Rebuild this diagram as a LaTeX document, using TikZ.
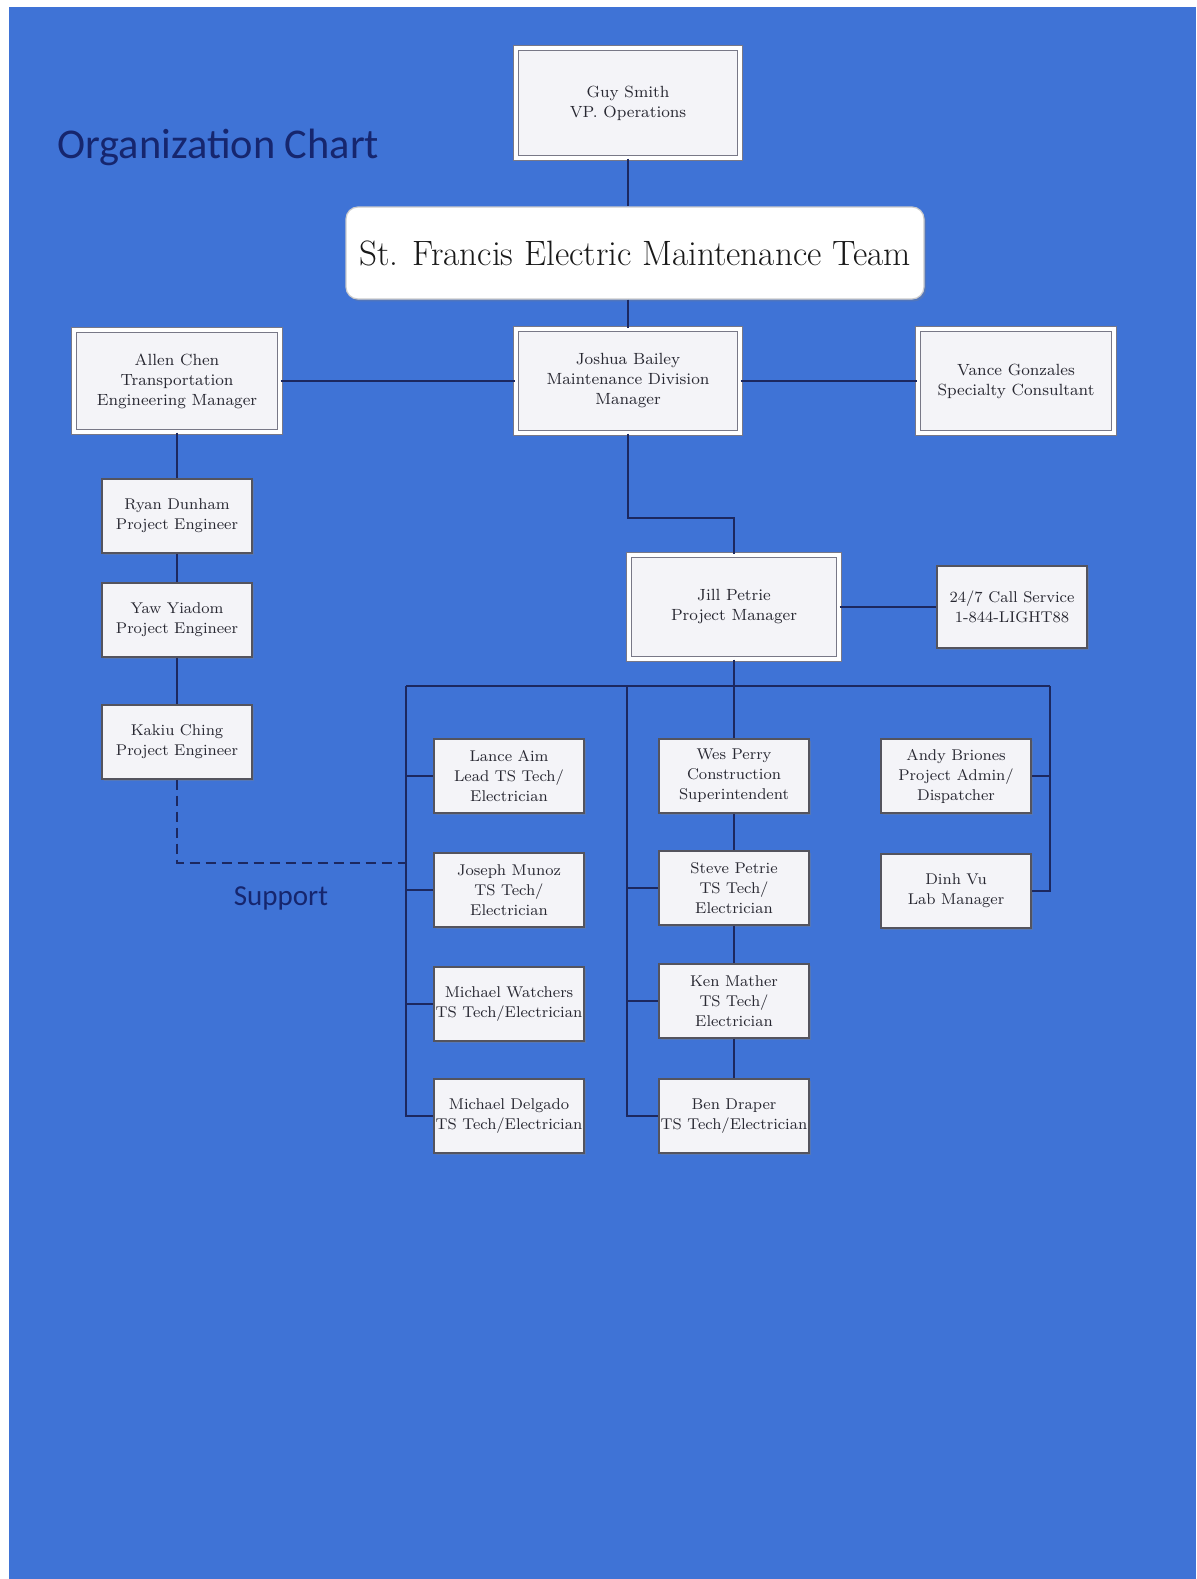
\documentclass[tikz,border=0pt]{standalone}
\usepackage{fontspec}
\newfontfamily\headfont{Carlito}
\usetikzlibrary{shadows}
\definecolor{bgblue}{RGB}{63,115,214}
\definecolor{linecol}{RGB}{28,40,96}
\definecolor{boxgray}{RGB}{120,120,135}
\definecolor{boxfill}{RGB}{244,244,248}
\definecolor{txtcol}{RGB}{40,40,50}
\definecolor{headcol}{RGB}{22,38,110}
\begin{document}
\begin{tikzpicture}[x=0.5pt,y=-0.5pt,
  conn/.style={draw=linecol, line width=0.9pt},
  supp/.style={draw=linecol, line width=0.9pt, dash pattern=on 5pt off 3pt},
  boxtext/.style={font=\fontsize{8.1}{10}\selectfont, text=txtcol, align=center, inner sep=1pt},
  bigbox/.style={boxtext, draw=boxgray, line width=0.6pt, double=white, double distance=1.6pt, fill=boxfill,
    drop shadow={opacity=0.35, shadow xshift=1pt, shadow yshift=-1.2pt}},
  smallbox/.style={boxtext, font=\fontsize{7.8}{10}\selectfont, inner sep=0pt, draw=boxgray!70!black, line width=0.7pt, fill=boxfill,
    minimum width=75pt, minimum height=37pt,
    drop shadow={opacity=0.35, shadow xshift=1pt, shadow yshift=-1.2pt}},
]
\useasboundingbox (0,0) rectangle (1196,1579);
\fill[white] (0,0) rectangle (1196,1579);
\fill[bgblue] (9,7) rectangle (1196,1579);

% heading
\node[font=\headfont\fontsize{21.2}{24}\selectfont, text=headcol, anchor=west, inner sep=0pt] (head) at (57,147) {Organization Chart};

% top
\node[bigbox, minimum width=112pt, minimum height=55pt] (guy) at (628,103) {Guy Smith\\VP. Operations};
\node[draw=gray!40, line width=0.6pt, fill=white, rounded corners=6pt, minimum width=289pt, minimum height=46pt,
  font=\fontsize{17.6}{20}\selectfont, text=black!90, inner sep=1pt,
  drop shadow={opacity=0.3, shadow xshift=1pt, shadow yshift=-1.2pt}] (team) at (635,253) {St. Francis Electric Maintenance Team};

\node[bigbox, minimum width=103pt, minimum height=51pt] (allen) at (177,381) {Allen Chen\\Transportation\\Engineering Manager};
\node[bigbox, minimum width=112pt, minimum height=52pt] (joshua) at (628,381) {Joshua Bailey\\Maintenance Division\\Manager};
\node[bigbox, minimum width=98pt, minimum height=52pt] (vance) at (1016,381) {Vance Gonzales\\Specialty Consultant};

% left engineering column
\node[smallbox] (ryan) at (177,516) {Ryan Dunham\\Project Engineer};
\node[smallbox] (yaw) at (177,620) {Yaw Yiadom\\Project Engineer};
\node[smallbox] (kakiu) at (177,742) {Kakiu Ching\\Project Engineer};

% project manager
\node[bigbox, minimum width=105pt, minimum height=52pt] (jill) at (734,607) {Jill Petrie\\Project Manager};
\node[smallbox, minimum height=41pt] (call) at (1012,607) {24/7 Call Service\\1-844-LIGHT88};

% left column
\node[smallbox] (lance) at (509,776) {Lance Aim\\Lead TS Tech/\\Electrician};
\node[smallbox] (joseph) at (509,890) {Joseph Munoz\\TS Tech/\\Electrician};
\node[smallbox] (watchers) at (509,1004) {Michael Watchers\\TS Tech/Electrician};
\node[smallbox] (delgado) at (509,1116) {Michael Delgado\\TS Tech/Electrician};

% middle column
\node[smallbox] (wes) at (734,776) {Wes Perry\\Construction\\Superintendent};
\node[smallbox] (steve) at (734,888) {Steve Petrie\\TS Tech/\\Electrician};
\node[smallbox] (ken) at (734,1001) {Ken Mather\\TS Tech/\\Electrician};
\node[smallbox] (ben) at (734,1116) {Ben Draper\\TS Tech/Electrician};

% right column
\node[smallbox] (andy) at (956,776) {Andy Briones\\Project Admin/\\Dispatcher};
\node[smallbox] (dinh) at (956,891) {Dinh Vu\\Lab Manager};

\node[font=\headfont\fontsize{14.5}{16}\selectfont, text=headcol, inner sep=0pt] (support) at (281,898) {Support};

% coordinates
\coordinate (jbend) at (628,518);
\coordinate (lb) at (406,686);
\coordinate (mb) at (627,686);
\coordinate (rb) at (1050,686);
\coordinate (sup) at (406,863);

% connectors
\draw[conn] (guy.south) -- (team.north -| guy.south);
\draw[conn] (team.south -| joshua.north) -- (joshua.north);
\draw[conn] (allen.east) -- (joshua.west);
\draw[conn] (joshua.east) -- (vance.west);
\draw[conn] (allen.south) -- (ryan.north);
\draw[conn] (ryan.south) -- (yaw.north);
\draw[conn] (yaw.south) -- (kakiu.north);
\draw[supp] (kakiu.south) -- (kakiu.south |- sup) -- (sup);
\draw[conn] (joshua.south) -- (jbend) -- (jbend -| jill.north) -- (jill.north);
\draw[conn] (jill.east) -- (call.west);
\draw[conn] (jill.south) -- (wes.north);
\draw[conn] (lb) -- (rb);
\draw[conn] (lb) -- (lb |- delgado.west) -- (delgado.west);
\draw[conn] (lb |- lance.west) -- (lance.west);
\draw[conn] (lb |- joseph.west) -- (joseph.west);
\draw[conn] (lb |- watchers.west) -- (watchers.west);
\draw[conn] (mb) -- (mb |- ben.west) -- (ben.west);
\draw[conn] (mb |- steve.west) -- (steve.west);
\draw[conn] (mb |- ken.west) -- (ken.west);
\draw[conn] (wes.south) -- (steve.north);
\draw[conn] (steve.south) -- (ken.north);
\draw[conn] (ken.south) -- (ben.north);
\draw[conn] (rb) -- (rb |- dinh.east) -- (dinh.east);
\draw[conn] (rb |- andy.east) -- (andy.east);
\end{tikzpicture}
\end{document}
